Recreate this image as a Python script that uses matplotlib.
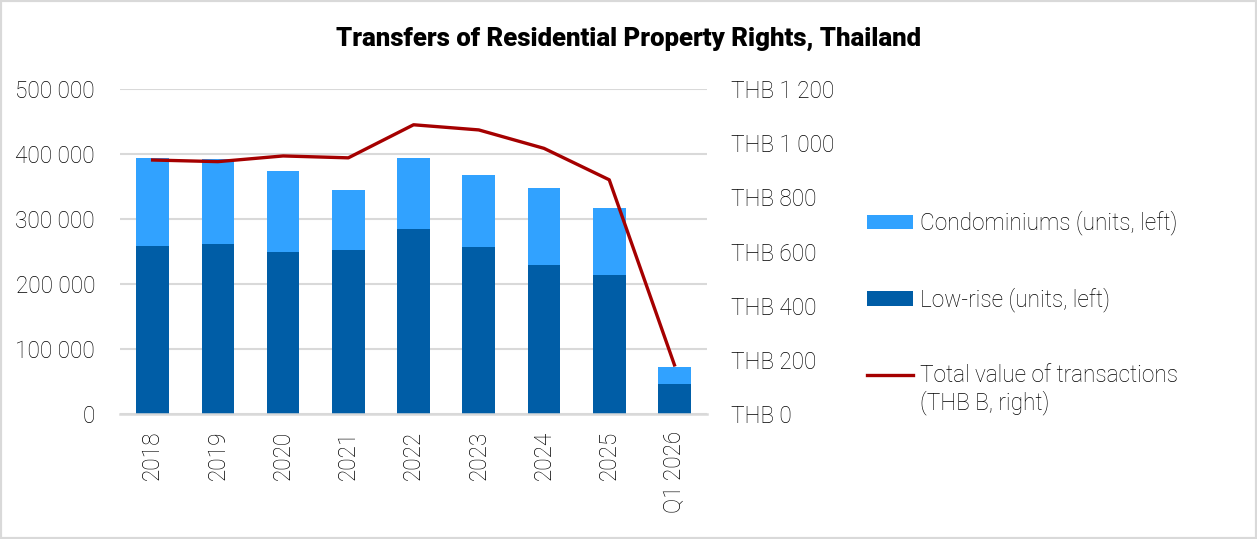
import matplotlib.pyplot as plt
from matplotlib.ticker import FuncFormatter
from matplotlib.patches import Rectangle

# data
periods = ["2018", "2019", "2020", "2021", "2022", "2023", "2024", "2025", "Q1 2026"]
low_rise = [259000, 262000, 250000, 253000, 285000, 257600, 230000, 214600, 47000]
condos_total = [393500, 392000, 374000, 344300, 393500, 367300, 347400, 316600, 72700]
total_value = [938, 932, 953, 946, 1068, 1049, 981, 865, 182]

condos = [t - l for t, l in zip(condos_total, low_rise)]

plt.rcParams["font.family"] = ["Roboto", "DejaVu Sans"]
plt.rcParams["font.weight"] = "light"
fs = 16.3
txt_col = "#000000"

fig = plt.figure(figsize=(12.57, 5.39), dpi=100)
fig.patches.append(Rectangle((0.0, 0.0), 1.0, 1.0, transform=fig.transFigure,
                             fill=False, edgecolor="#d9d9d9", linewidth=3))

ax = fig.add_axes([0.0955, 0.2314, 0.467, 0.6035])
x = range(len(periods))
ax.bar(x, low_rise, width=0.5, color="#005DA6", label="Low-rise (units, left)", zorder=2)
ax.bar(x, condos, width=0.5, bottom=low_rise, color="#31A2FF",
       label="Condominiums (units, left)", zorder=2)

ax.set_ylim(0, 500000)
ax.set_xlim(-0.5, len(periods) - 0.5)
ax.set_yticks(range(0, 500001, 100000))
ax.yaxis.set_major_formatter(FuncFormatter(lambda v, p: f"{int(v):,}".replace(",", " ")))
ax.set_xticks(list(x))
ax.set_xticklabels(periods, rotation=90)
ax.grid(axis="y", color="#d9d9d9", linewidth=1.5, zorder=0)
ax.set_axisbelow(True)
for s in ["top", "right", "left"]:
    ax.spines[s].set_visible(False)
ax.spines["bottom"].set_color("#d9d9d9")
ax.spines["bottom"].set_linewidth(1.8)
ax.tick_params(axis="both", length=0, labelsize=fs, colors=txt_col)
ax.tick_params(axis="y", pad=18)
ax.tick_params(axis="x", pad=12)

ax2 = ax.twinx()
ax2.plot(list(x), total_value, color="#A50000", linewidth=2.4,
         label="Total value of transactions", zorder=3)
ax2.set_ylim(0, 1200)
ax2.set_yticks(range(0, 1201, 200))
ax2.yaxis.set_major_formatter(FuncFormatter(lambda v, p: "THB " + f"{int(v):,}".replace(",", " ")))
for s in ax2.spines.values():
    s.set_visible(False)
ax2.tick_params(axis="y", length=0, labelsize=fs, colors=txt_col, pad=17)

h1, l1 = ax.get_legend_handles_labels()
h2, l2 = ax2.get_legend_handles_labels()
leg = fig.legend([h1[1], h1[0], h2[0]], [l1[1], l1[0], l2[0]],
                 loc="upper left", bbox_to_anchor=(0.675, 0.6426), frameon=False,
                 fontsize=fs, handlelength=2.05, handleheight=0.62, handletextpad=0.3,
                 labelspacing=2.3, labelcolor=txt_col, borderpad=0.3)

fig.suptitle("Transfers of Residential Property Rights, Thailand", x=0.5, y=1 - 39 / 539,
             va="center", fontsize=18.5, fontweight="heavy")

# second line of the last legend label sits under the first, handle stays on line one
fig.canvas.draw()
bb = leg.get_texts()[2].get_window_extent().transformed(fig.transFigure.inverted())
fig.text(bb.x0, bb.y0 - 0.005, "(THB B, right)", fontsize=fs, color=txt_col, va="top")

plt.savefig("out.png", dpi=100)
